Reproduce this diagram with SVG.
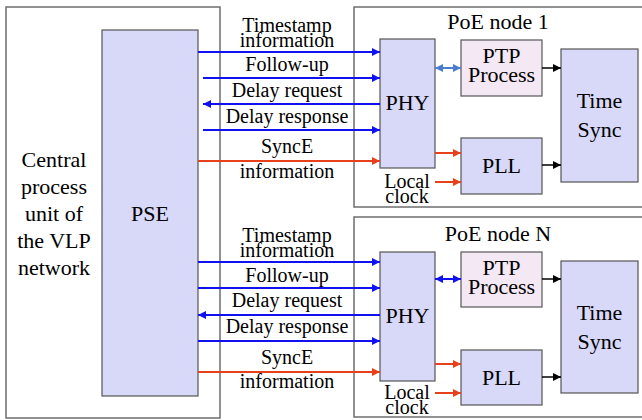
<svg xmlns="http://www.w3.org/2000/svg" width="642" height="420" viewBox="0 0 642 420">
<defs>
<style>
text{font-family:"Liberation Serif","Times New Roman",serif;fill:#000;text-anchor:middle}
.s{font-size:20px}
.b{font-size:22px}
.outer{fill:#fff;stroke:#6e6e6e;stroke-width:1.5}
.box{fill:#d8d8f8;stroke:#555;stroke-width:1.2}
.ptp{fill:#f4e8f5;stroke:#555;stroke-width:1.2}
.bl{stroke:#1010f0;stroke-width:2;fill:none}
.lb{stroke:#4a7cd0;stroke-width:2;fill:none}
.rd{stroke:#e8401c;stroke-width:2;fill:none}
.bk{stroke:#000;stroke-width:1.5;fill:none}
</style>
<marker id="ab" viewBox="0 0 10 10" refX="10" refY="5" markerWidth="10" markerHeight="8" markerUnits="userSpaceOnUse" orient="auto-start-reverse"><path d="M0,0L10,5L0,10z" fill="#1010f0"/></marker>
<marker id="al" viewBox="0 0 10 10" refX="10" refY="5" markerWidth="10" markerHeight="8" markerUnits="userSpaceOnUse" orient="auto-start-reverse"><path d="M0,0L10,5L0,10z" fill="#4a7cd0"/></marker>
<marker id="ar" viewBox="0 0 10 10" refX="10" refY="5" markerWidth="10" markerHeight="8" markerUnits="userSpaceOnUse" orient="auto"><path d="M0,0L10,5L0,10z" fill="#e8401c"/></marker>
<marker id="ak" viewBox="0 0 10 10" refX="10" refY="5" markerWidth="10" markerHeight="8" markerUnits="userSpaceOnUse" orient="auto"><path d="M0,0L10,5L0,10z" fill="#000"/></marker>
</defs>
<rect width="642" height="420" fill="#fff"/>

<g id="central">
<rect class="outer" x="6" y="7" width="214" height="411"/>
<text class="b" x="54" y="167">Central</text>
<text class="b" x="54" y="194">process</text>
<text class="b" x="54" y="221">unit of</text>
<text class="b" x="54" y="248">the VLP</text>
<text class="b" x="54" y="275">network</text>
</g>
<g id="pse">
<rect class="box" x="102" y="30" width="96" height="366"/>
<text class="b" x="150" y="221">PSE</text>
</g>

<g id="node1">
<rect class="outer" x="354" y="7" width="292" height="200"/>
<text class="b" x="498" y="29">PoE node 1</text>
</g>
<g id="phy1">
<rect class="box" x="380" y="39" width="55" height="129"/>
<text class="b" x="407.5" y="110">PHY</text>
</g>
<g id="ptp1">
<rect class="ptp" x="461" y="40" width="81" height="56"/>
<text class="b" x="501.5" y="63">PTP</text>
<text class="b" x="501.5" y="82">Process</text>
</g>
<g id="pll1">
<rect class="box" x="461" y="138" width="81" height="56"/>
<text class="b" x="501.5" y="173">PLL</text>
</g>
<g id="ts1">
<rect class="box" x="561" y="49" width="77" height="133"/>
<text class="b" x="599.5" y="108">Time</text>
<text class="b" x="599.5" y="137">Sync</text>
</g>
<g id="lc1">
<text class="s" x="407" y="188">Local</text>
<text class="s" x="407" y="203">clock</text>
</g>

<g id="nodeN">
<rect class="outer" x="354" y="217" width="292" height="200"/>
<text class="b" x="498" y="241">PoE node N</text>
</g>
<g id="phyN">
<rect class="box" x="380" y="252" width="55" height="129"/>
<text class="b" x="407.5" y="323">PHY</text>
</g>
<g id="ptpN">
<rect class="ptp" x="461" y="252" width="81" height="55"/>
<text class="b" x="501.5" y="275">PTP</text>
<text class="b" x="501.5" y="294">Process</text>
</g>
<g id="pllN">
<rect class="box" x="461" y="350" width="81" height="55"/>
<text class="b" x="501.5" y="385">PLL</text>
</g>
<g id="tsN">
<rect class="box" x="561" y="261" width="77" height="132"/>
<text class="b" x="599.5" y="320">Time</text>
<text class="b" x="599.5" y="349">Sync</text>
</g>
<g id="lcN">
<text class="s" x="407" y="399">Local</text>
<text class="s" x="407" y="414">clock</text>
</g>

<g id="connectors">
<line class="bl" x1="198" y1="52" x2="380" y2="52" marker-end="url(#ab)"/>
<line class="bl" x1="203" y1="78" x2="380" y2="78" marker-end="url(#ab)"/>
<line class="bl" x1="380" y1="104" x2="203" y2="104" marker-end="url(#ab)"/>
<line class="bl" x1="203" y1="130" x2="380" y2="130" marker-end="url(#ab)"/>
<line class="rd" x1="198" y1="161" x2="380" y2="161" marker-end="url(#ar)"/>
<line class="lb" x1="435" y1="68" x2="461" y2="68" marker-start="url(#al)" marker-end="url(#al)"/>
<line class="bk" x1="542" y1="68" x2="561" y2="68" marker-end="url(#ak)"/>
<line class="bk" x1="542" y1="165" x2="561" y2="165" marker-end="url(#ak)"/>
<line class="rd" x1="435" y1="153" x2="461" y2="153" marker-end="url(#ar)"/>
<line class="rd" x1="435" y1="182" x2="461" y2="182" marker-end="url(#ar)"/>

<line class="bl" x1="198" y1="262" x2="380" y2="262" marker-end="url(#ab)"/>
<line class="bl" x1="198" y1="288" x2="380" y2="288" marker-end="url(#ab)"/>
<line class="bl" x1="380" y1="315" x2="198" y2="315" marker-end="url(#ab)"/>
<line class="bl" x1="198" y1="341" x2="380" y2="341" marker-end="url(#ab)"/>
<line class="rd" x1="198" y1="372" x2="380" y2="372" marker-end="url(#ar)"/>
<line class="bl" x1="435" y1="279" x2="461" y2="279" marker-start="url(#ab)" marker-end="url(#ab)"/>
<line class="bk" x1="542" y1="279" x2="561" y2="279" marker-end="url(#ak)"/>
<line class="bk" x1="542" y1="377" x2="561" y2="377" marker-end="url(#ak)"/>
<line class="rd" x1="435" y1="364" x2="461" y2="364" marker-end="url(#ar)"/>
<line class="rd" x1="435" y1="393" x2="461" y2="393" marker-end="url(#ar)"/>

<text class="s" x="287" y="32">Timestamp</text>
<text class="s" x="287" y="47">information</text>
<text class="s" x="287" y="71">Follow-up</text>
<text class="s" x="287" y="97">Delay request</text>
<text class="s" x="287" y="123">Delay response</text>
<text class="s" x="287" y="153">SyncE</text>
<text class="s" x="287" y="178">information</text>

<text class="s" x="287" y="242">Timestamp</text>
<text class="s" x="287" y="257">information</text>
<text class="s" x="287" y="282">Follow-up</text>
<text class="s" x="287" y="307">Delay request</text>
<text class="s" x="287" y="333">Delay response</text>
<text class="s" x="287" y="364">SyncE</text>
<text class="s" x="287" y="388">information</text>
</g>
</svg>
